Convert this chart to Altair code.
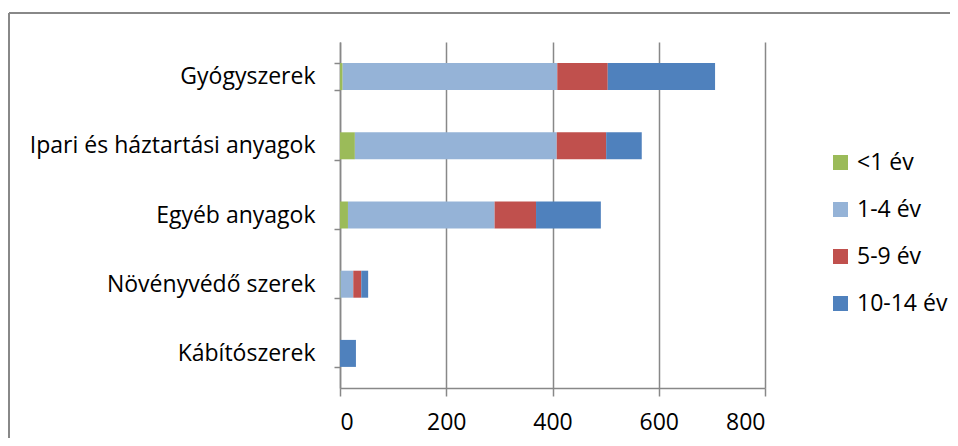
import altair as alt
import pandas as pd

categories = ["Gyógyszerek", "Ipari és háztartási anyagok", "Egyéb anyagok",
              "Növényvédő szerek", "Kábítószerek"]
series = ["<1 év", "1-4 év", "5-9 év", "10-14 év"]
colors = ["#9BBB59", "#95B3D7", "#C0504D", "#4F81BD"]
v_lt1 = [5, 28, 15, 1, 0]
v_1_4 = [404, 380, 276, 24, 0]
v_5_9 = [95, 93, 78, 15, 0]
v_10_14 = [202, 67, 122, 13, 30]
x_ticks = [0, 200, 400, 600, 800]

rows = []
for i, c in enumerate(categories):
    for j, (s, vals) in enumerate(zip(series, [v_lt1, v_1_4, v_5_9, v_10_14])):
        rows.append({"cat": c, "ser": s, "val": vals[i], "ord": j})
df = pd.DataFrame(rows)

FONT = "Open Sans"
FS = 23

bars = alt.Chart(df).mark_bar(size=27).encode(
    y=alt.Y("cat:N", sort=categories, title=None,
            scale=alt.Scale(paddingInner=0.6, paddingOuter=0.3),
            axis=alt.Axis(tickBand="extent", domainColor="#888888", tickColor="#888888",
                          tickSize=6, domainWidth=1.5, tickWidth=1.5,
                          labelFont=FONT, labelFontSize=FS, labelColor="#000000",
                          labelPadding=19, labelLimit=400, grid=False)),
    x=alt.X("val:Q", title=None, stack="zero",
            scale=alt.Scale(domain=[0, 800], nice=False),
            axis=alt.Axis(values=x_ticks, grid=True, gridColor="#888888", gridWidth=1.5,
                          domainColor="#888888", tickColor="#888888", domainWidth=1.5,
                          tickWidth=1.5, tickSize=8, labelFont=FONT, labelFontSize=FS,
                          labelColor="#000000", labelPadding=15)),
    color=alt.Color("ser:N", sort=series,
                    scale=alt.Scale(domain=series, range=colors),
                    legend=alt.Legend(title=None, orient="none", legendX=489, legendY=109,
                                      symbolType="square", symbolSize=225,
                                      symbolStrokeWidth=0, labelFont=FONT,
                                      labelFontSize=FS, labelColor="#000000",
                                      rowPadding=23, labelOffset=5, padding=0,
                                      labelLimit=200)),
    order=alt.Order("ord:Q"),
)

frame = alt.Chart(pd.DataFrame({"a": [0]})).mark_rule(color="#888888", strokeWidth=2).encode(
    x=alt.value(-331), x2=alt.value(640), y=alt.value(-29))
frame_left = alt.Chart(pd.DataFrame({"a": [0]})).mark_rule(color="#888888", strokeWidth=2).encode(
    x=alt.value(-331), y=alt.value(-29), y2=alt.value(420))

chart = alt.layer(frame, frame_left, bars).properties(
    width=425, height=346,
    autosize=alt.AutoSizeParams(type="none"),
    padding={"left": 332, "top": 34, "right": 185, "bottom": 50},
).configure_view(stroke=None)

chart.save("out.html", embed_options={"renderer": "svg", "actions": False})
